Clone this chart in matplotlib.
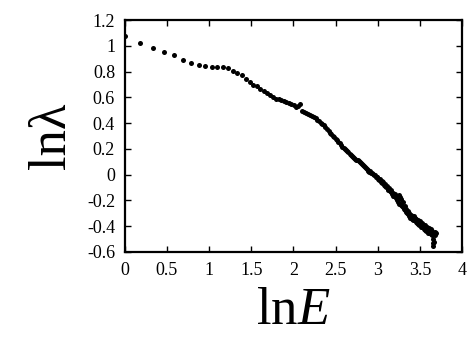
import matplotlib
matplotlib.use('Agg')
import matplotlib.pyplot as plt

plt.rcParams['font.family'] = ['Liberation Serif', 'DejaVu Serif']
plt.rcParams['mathtext.fontset'] = 'custom'
plt.rcParams['mathtext.rm'] = 'Liberation Serif'
plt.rcParams['mathtext.it'] = 'Liberation Serif:italic'

# ln E values
lnE = [0.000, 0.182, 0.336, 0.470, 0.588, 0.693, 0.788, 0.875, 0.956, 1.030,
       1.099, 1.163, 1.224, 1.281, 1.335, 1.386, 1.435, 1.482, 1.526, 1.569,
       1.609, 1.649, 1.686, 1.723, 1.758, 1.792, 1.825, 1.856, 1.887, 1.917,
       1.946, 1.974, 2.001, 2.028, 2.054, 2.079, 2.104, 2.128, 2.152, 2.175,
       2.197, 2.219, 2.241, 2.262, 2.282, 2.303, 2.322, 2.342, 2.361, 2.380,
       2.398, 2.416, 2.434, 2.451, 2.468, 2.485, 2.501, 2.518, 2.533, 2.549,
       2.565, 2.580, 2.595, 2.610, 2.625, 2.639, 2.653, 2.667, 2.681, 2.695,
       2.708, 2.721, 2.734, 2.747, 2.760, 2.773, 2.785, 2.797, 2.809, 2.821,
       2.833, 2.845, 2.856, 2.868, 2.879, 2.890, 2.901, 2.912, 2.923, 2.934,
       2.944, 2.955, 2.965, 2.976, 2.986, 2.996, 3.006, 3.016, 3.025, 3.035,
       3.045, 3.054, 3.063, 3.073, 3.082, 3.091, 3.100, 3.109, 3.118, 3.127,
       3.135, 3.144, 3.153, 3.161, 3.170, 3.178, 3.186, 3.195, 3.203, 3.211,
       3.219, 3.227, 3.235, 3.243, 3.251, 3.258, 3.266, 3.274, 3.281, 3.289,
       3.296, 3.304, 3.311, 3.318, 3.325, 3.332, 3.339, 3.346, 3.353, 3.360,
       3.367, 3.374, 3.381, 3.388, 3.394, 3.401, 3.407, 3.414, 3.420, 3.427,
       3.433, 3.439, 3.446, 3.452, 3.458, 3.464, 3.470, 3.476, 3.482, 3.488,
       3.493, 3.499, 3.505, 3.511, 3.516, 3.522, 3.527, 3.533, 3.538, 3.544,
       3.549, 3.555, 3.560, 3.565, 3.570, 3.576, 3.581, 3.586, 3.591, 3.596,
       3.601, 3.606, 3.611, 3.616, 3.621, 3.626, 3.631, 3.636, 3.641, 3.645,
       3.650, 3.655, 3.660, 3.664, 3.669, 3.674, 3.680, 3.690]

# ln lambda values
lnLam = [1.078, 1.020, 0.983, 0.950, 0.930, 0.888, 0.864, 0.853, 0.845, 0.836,
         0.834, 0.833, 0.831, 0.806, 0.787, 0.772, 0.742, 0.722, 0.696, 0.684,
         0.668, 0.650, 0.630, 0.620, 0.600, 0.590, 0.585, 0.578, 0.572, 0.566,
         0.556, 0.548, 0.540, 0.528, 0.535, 0.545, 0.492, 0.485, 0.478, 0.470,
         0.462, 0.455, 0.447, 0.436, 0.426, 0.415, 0.404, 0.395, 0.382, 0.368,
         0.352, 0.338, 0.325, 0.314, 0.302, 0.292, 0.280, 0.268, 0.256, 0.242,
         0.228, 0.215, 0.205, 0.196, 0.188, 0.180, 0.172, 0.163, 0.155, 0.146,
         0.138, 0.130, 0.124, 0.117, 0.110, 0.104, 0.098, 0.090, 0.082, 0.075,
         0.066, 0.058, 0.050, 0.040, 0.036, 0.030, 0.022, 0.028, 0.012, 0.010,
         0.002, -0.006, 0.000, -0.018, -0.020, -0.015, -0.035, -0.040, -0.032, -0.055,
         -0.050, -0.068, -0.060, -0.080, -0.075, -0.092, -0.098, -0.088, -0.110, -0.118,
         -0.105, -0.130, -0.138, -0.120, -0.150, -0.145, -0.165, -0.170, -0.150, -0.185,
         -0.172, -0.200, -0.190, -0.210, -0.160, -0.225, -0.175, -0.235, -0.190, -0.240,
         -0.215, -0.250, -0.265, -0.245, -0.275, -0.265, -0.290, -0.300, -0.280, -0.305,
         -0.295, -0.320, -0.310, -0.335, -0.315, -0.325, -0.345, -0.330, -0.350, -0.340,
         -0.320, -0.355, -0.338, -0.365, -0.348, -0.375, -0.358, -0.385, -0.352, -0.372,
         -0.395, -0.378, -0.362, -0.388, -0.405, -0.385, -0.375, -0.410, -0.395, -0.420,
         -0.400, -0.428, -0.410, -0.392, -0.420, -0.438, -0.405, -0.428, -0.445, -0.420,
         -0.455, -0.432, -0.415, -0.450, -0.430, -0.460, -0.445, -0.425, -0.440, -0.470,
         -0.500, -0.530, -0.555, -0.520, -0.460, -0.445, -0.470, -0.450]

xticks = [0, 0.5, 1, 1.5, 2, 2.5, 3, 3.5, 4]
xtick_labels = ['0', '0.5', '1', '1.5', '2', '2.5', '3', '3.5', '4']
yticks = [-0.6, -0.4, -0.2, 0, 0.2, 0.4, 0.6, 0.8, 1, 1.2]
ytick_labels = ['-0.6', '-0.4', '-0.2', '0', '0.2', '0.4', '0.6', '0.8', '1', '1.2']

fig = plt.figure(figsize=(4.71, 3.39), dpi=100)
ax = fig.add_axes([0.265, 0.257, 0.716, 0.684])
ax.plot(lnE, lnLam, 'o', color='black', markersize=3.6, markeredgewidth=0)

ax.set_xlim(0, 4)
ax.set_ylim(-0.6, 1.2)
ax.set_xticks(xticks)
ax.set_xticklabels(xtick_labels)
ax.set_yticks(yticks)
ax.set_yticklabels(ytick_labels)
ax.tick_params(direction='in', top=True, right=True, length=4, width=1,
               labelsize=13, pad=7)
for s in ax.spines.values():
    s.set_linewidth(1.6)

ax.set_xlabel(r'$\mathrm{ln}E$', fontsize=38, labelpad=6)
ax.set_ylabel('lnλ', fontsize=38, labelpad=8)

fig.savefig('out.png', dpi=100)
